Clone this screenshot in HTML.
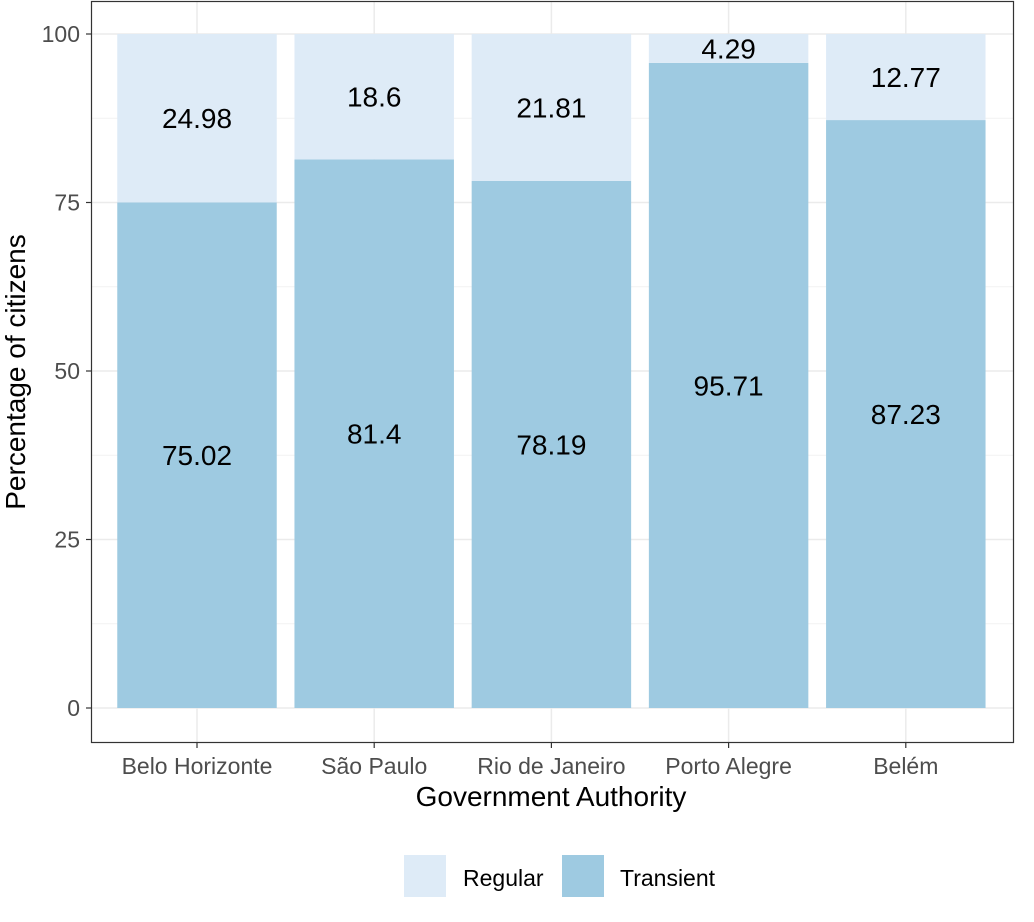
<!DOCTYPE html>
<html><head><meta charset="utf-8"><style>
html,body{margin:0;padding:0;background:#fff;}
svg{display:block;font-family:"Liberation Sans",Arial,sans-serif;}
</style></head><body>
<svg id="chart" width="1034" height="922" viewBox="0 0 1034 922">
<rect x="0" y="0" width="1034" height="922" fill="#fff"/>
<g id="grid"></g>
<g id="bars"></g>
<g id="labels"></g>
<rect x="91.5" y="1.5" width="922" height="741" fill="none" stroke="#333" stroke-width="1.2"/>
<g id="axes"></g>
<text x="551" y="806" text-anchor="middle" font-size="28" fill="#000">Government Authority</text>
<text transform="translate(25,372) rotate(-90)" text-anchor="middle" font-size="28" fill="#000">Percentage of citizens</text>
<g>
<g>
<rect x="404" y="855" width="42" height="42" fill="#deebf7"/>
<text x="463" y="886" font-size="23" fill="#000">Regular</text>
</g>
<g>
<rect x="562" y="855" width="42" height="42" fill="#9ecae1"/>
<text x="620" y="886" font-size="23" fill="#000">Transient</text>
</g>
</g>
</svg>
<script>
const categories = ["Belo Horizonte","São Paulo","Rio de Janeiro","Porto Alegre","Belém"];
const transient = [75.02, 81.4, 78.19, 95.71, 87.23];
const regular = [24.98, 18.6, 21.81, 4.29, 12.77];
const yTicks = [0, 25, 50, 75, 100];

const NS = "http://www.w3.org/2000/svg";
const y = v => 708 - v * 6.74;
const step = 177.2;
const x = i => 197 + i * step;
const bw = step * 0.9;
function mk(tag, attrs, parent){ const e=document.createElementNS(NS,tag); for(const k in attrs) e.setAttribute(k,attrs[k]); parent.appendChild(e); return e; }
const grid=document.getElementById('grid'), bars=document.getElementById('bars'), labels=document.getElementById('labels'), axes=document.getElementById('axes');

for(let i=0;i<yTicks.length-1;i++){
  const m=(yTicks[i]+yTicks[i+1])/2;
  const l=mk('line',{x1:92,x2:1013,y1:y(m),y2:y(m),stroke:'#f2f2f2','stroke-width':1},grid);
  
  
}
yTicks.forEach(t=>{
  const l=mk('line',{x1:92,x2:1013,y1:y(t),y2:y(t),stroke:'#ebebeb','stroke-width':1.5},grid);
  
  
  const tk=mk('line',{x1:86,x2:91,y1:y(t),y2:y(t),stroke:'#333','stroke-width':1.2},axes);
  
  
  const tx=mk('text',{x:80,y:y(t)+8,'text-anchor':'end','font-size':23,fill:'#4d4d4d'},axes);
  tx.textContent=t;
  
  
});
categories.forEach((c,i)=>{
  const l=mk('line',{x1:x(i),x2:x(i),y1:2,y2:742,stroke:'#ebebeb','stroke-width':1.5},grid);
  
  
  const bt=mk('rect',{x:x(i)-bw/2,y:y(transient[i]),width:bw,height:y(0)-y(transient[i]),fill:'#9ecae1'},bars);
  
  
  const top=transient[i]+regular[i];
  const br=mk('rect',{x:x(i)-bw/2,y:y(top),width:bw,height:y(transient[i])-y(top),fill:'#deebf7'},bars);
  
  
  const lt=mk('text',{x:x(i),y:y(transient[i]/2)+10,'text-anchor':'middle','font-size':28,fill:'#000'},labels);
  lt.textContent=transient[i];
  
  
  const lr=mk('text',{x:x(i),y:y(transient[i]+regular[i]/2)+10,'text-anchor':'middle','font-size':28,fill:'#000'},labels);
  lr.textContent=regular[i];
  
  
  const tk=mk('line',{x1:x(i),x2:x(i),y1:743,y2:748,stroke:'#333','stroke-width':1.2},axes);
  
  
  const tx=mk('text',{x:x(i),y:774,'text-anchor':'middle','font-size':23,fill:'#4d4d4d'},axes);
  tx.textContent=c;
  
  
});
</script>
</body></html>
